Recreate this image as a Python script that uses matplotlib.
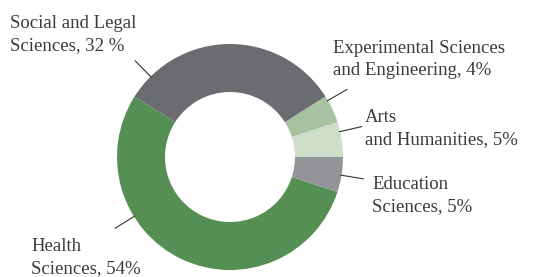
import numpy as np
import matplotlib
matplotlib.use("Agg")
from matplotlib import pyplot as plt

# slices, counterclockwise from 3 o'clock
categories = ["Arts\nand Humanities, 5%",
              "Experimental Sciences\nand Engineering, 4%",
              "Social and Legal\nSciences, 32 %",
              "Health\nSciences, 54%",
              "Education\nSciences, 5%"]
shares = [5, 4, 32, 54, 5]
colors = ["#cfdecb", "#a7c2a0", "#6b6c70", "#568f53", "#939497"]

# label layout (pixels from top-left) and leader-line angle
label_xy = [(365, 144), (333, 75), (10, 50), (31, 273), (372, 211)]
leader_deg = [13, 30, 134.6, 211.8, -9.3]

W, H = 540, 277
cx, cy, R = 230, H - 157, 113

fig = plt.figure(figsize=(W / 100, H / 100), dpi=100)
ax = fig.add_axes([0, 0, 1, 1])
ax.pie(shares, colors=colors, startangle=0, counterclock=True,
       radius=R, center=(cx, cy), wedgeprops=dict(width=48, linewidth=0))
ax.set_xlim(0, W)
ax.set_ylim(0, H)
ax.set_aspect("equal")
ax.axis("off")

for lab, (tx, ty), a in zip(categories, label_xy, leader_deg):
    t = np.deg2rad(a)
    ax.plot([cx + R * 0.99 * np.cos(t), cx + R * 1.2 * np.cos(t)],
            [cy + R * 0.99 * np.sin(t), cy + R * 1.2 * np.sin(t)],
            color="#333333", lw=0.8, solid_capstyle="butt")
    ax.text(tx, H - ty, lab, ha="left", va="baseline", fontsize=13.5,
            family="Liberation Serif", color="#3a3a3a", linespacing=1.42)

fig.savefig("out.png", dpi=100)
